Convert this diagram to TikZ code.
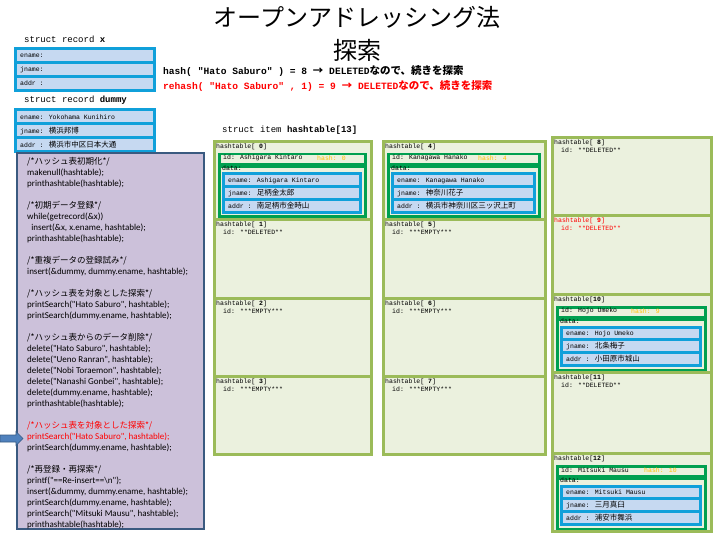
\documentclass[tikz,border=0pt]{standalone}
\usepackage{fontspec}
\setmainfont{Noto Sans CJK JP}
\newfontfamily\jp{Noto Sans CJK JP}
\newfontfamily\lmono{Liberation Mono}
\newfontfamily\codef{Carlito}
\usetikzlibrary{fit}
\definecolor{cellfill}{HTML}{EBF1DE}
\definecolor{cellborder}{HTML}{9BBB59}
\definecolor{dgreen}{HTML}{00A050}
\definecolor{rblue}{HTML}{10A0DA}
\definecolor{rfill}{HTML}{C6D9F1}
\definecolor{codefill}{HTML}{CCC1DA}
\definecolor{codeborder}{HTML}{3A5A80}
\definecolor{hashc}{HTML}{FFC000}
\definecolor{arrowc}{HTML}{4F81BD}
\definecolor{redc}{HTML}{FF0000}
\newcommand{\Jc}[1]{{\jp\fontsize{7.5}{8}\selectfont #1}}
\newcommand{\Hj}[1]{{\jp\bfseries\fontsize{10.5}{11}\selectfont #1}}
\newcommand{\Cj}[1]{{\jp\fontsize{8.5}{11}\selectfont #1}}
\tikzset{
  cellbox/.style={draw=cellborder, fill=cellfill, line width=3pt, anchor=north west, inner sep=0pt},
  grnbox/.style={draw=dgreen, line width=2.5pt, anchor=north west, inner sep=0pt},
  recrow/.style={draw=rblue, fill=rfill, line width=1.5pt, anchor=north west, inner sep=0pt},
  recframe/.style={draw=rblue, line width=3pt, inner sep=0pt},
  celltxt/.style={anchor=west, inner sep=0pt, font=\lmono\fontsize{6.5}{7}\selectfont},
  structtxt/.style={anchor=west, inner sep=0pt, font=\lmono\fontsize{9}{10}\selectfont},
  hashtxt/.style={anchor=west, inner sep=0pt, font=\lmono\bfseries\fontsize{9.6}{11}\selectfont},
}
% record box: name, x, y, width, row height, ename, jname, addr
\newcommand{\recbox}[8]{%
  \node[recrow, minimum width={#4pt}, minimum height={#5pt}] (#1-e) at (#2,#3) {};
  \node[recrow, minimum width={#4pt}, minimum height={#5pt}] (#1-j) at (#1-e.south west) {};
  \node[recrow, minimum width={#4pt}, minimum height={#5pt}] (#1-a) at (#1-j.south west) {};
  \node[recframe, fit=(#1-e)(#1-a)] (#1) {};
  \node[celltxt] (#1-et) at ([xshift=5pt]#1-e.west) {ename: #6};
  \node[celltxt] (#1-jt) at ([xshift=5pt]#1-j.west) {jname: #7};
  \node[celltxt] (#1-at) at ([xshift=5pt]#1-a.west) {addr : #8};
}
% empty cell: name, x0, x1, top, height, index, id text, colour
\newcommand{\emptycell}[8]{%
  \node[cellbox, minimum width={#3pt-#2pt}, minimum height={#5pt}] (#1) at (#2,#4) {};
  \node[celltxt, text=#8] (#1-h) at ({#2+3},{#4+7}) {hashtable[\textbf{#6}]};
  \node[celltxt, text=#8] (#1-id) at ({#2+10},{#4+14}) {id: #7};
}
% full cell: name, x0, x1, top, height, index, person, hash x, hash value
\newcommand{\fullcell}[9]{%
  \node[cellbox, minimum width={#3pt-#2pt}, minimum height={#5pt}] (#1) at (#2,#4) {};
  \node[celltxt] (#1-h) at ({#2+3},{#4+7}) {hashtable[\textbf{#6}]};
  \node[grnbox, fill=cellfill, minimum width={#3pt-#2pt-11pt}, minimum height=10pt] (#1-idrow) at ({#2+5},{#4+13}) {};
  \node[grnbox, minimum width={#3pt-#2pt-11pt}, minimum height=50pt] (#1-data) at (#1-idrow.south west) {};
  \node[celltxt] (#1-id) at ({#2+10},{#4+18}) {id: #7};
  \node[celltxt, text=hashc] (#1-hash) at (#8,{#4+18}) {hash: #9};
  \node[celltxt] (#1-dt) at ({#2+9},{#4+28}) {data:};
}
\begin{document}
\begin{tikzpicture}[x=1pt,y=-1pt]
\fill[white] (0,0) rectangle (720,540);
\useasboundingbox (0,0) rectangle (720,540);
% title and hash lines
\node[font=\jp\fontsize{24}{33}\selectfont, align=center, inner sep=0pt] (title) at (357,34) {オープンアドレッシング法\\探索};
\node[hashtxt] (h1) at (163,71) {hash( "Hato Saburo" ) = 8 \Hj{→} DELETED\Hj{なので、続きを探索}};
\node[hashtxt, text=redc] (h2) at (163,86) {rehash( "Hato Saburo" , 1) = 9 \Hj{→} DELETED\Hj{なので、続きを探索}};
% records
\node[structtxt] (sx) at (24,39) {struct record \textbf{x}};
\recbox{recx}{15}{49}{138}{12.3}{}{}{}
\node[structtxt] (sd) at (24,100) {struct record \textbf{dummy}};
\recbox{dummy}{15}{110}{138}{12.3}{Yokohama Kunihiro}{\Jc{横浜邦博}}{\Jc{横浜市中区日本大通}}
% code
\node[draw=codeborder, fill=codefill, line width=2pt, anchor=north west, minimum width=187pt, minimum height=376pt, inner sep=0pt] (code) at (16,152) {};
\node[anchor=north west, align=left, inner sep=0pt, font=\codef\fontsize{9}{11}\selectfont] (codetxt) at (27,157) {%
\Cj{/*ハッシュ表初期化*/}\\
makenull(hashtable);\\
printhashtable(hashtable);\\
~\\
\Cj{/*初期データ登録*/}\\
while(getrecord(\&x))\\
\ \ insert(\&x, x.ename, hashtable);\\
printhashtable(hashtable);\\
~\\
\Cj{/*重複データの登録試み*/}\\
insert(\&dummy, dummy.ename, hashtable);\\
~\\
\Cj{/*ハッシュ表を対象とした探索*/}\\
printSearch("Hato Saburo", hashtable);\\
printSearch(dummy.ename, hashtable);\\
~\\
\Cj{/*ハッシュ表からのデータ削除*/}\\
delete("Hato Saburo", hashtable);\\
delete("Ueno Ranran", hashtable);\\
delete("Nobi Toraemon", hashtable);\\
delete("Nanashi Gonbei", hashtable);\\
delete(dummy.ename, hashtable);\\
printhashtable(hashtable);\\
~\\
{\color{redc}\Cj{/*ハッシュ表を対象とした探索*/}}\\
{\color{redc}printSearch("Hato Saburo", hashtable);}\\
printSearch(dummy.ename, hashtable);\\
~\\
\Cj{/*再登録・再探索*/}\\
printf("==Re-insert==\textbackslash n");\\
insert(\&dummy, dummy.ename, hashtable);\\
printSearch(dummy.ename, hashtable);\\
printSearch("Mitsuki Mausu", hashtable);\\
printhashtable(hashtable);};
\filldraw[fill=arrowc, draw=arrowc!70!black, line width=0.6pt] (0,435) -- (16,435) -- (16,431.5) -- (23,438.5) -- (16,445.5) -- (16,442) -- (0,442) -- cycle;
% hash table
\node[structtxt] (si) at (222,130) {struct item \textbf{hashtable[13]}};
\fullcell{c0}{213}{370}{140}{78}{ 0}{Ashigara Kintaro}{317}{0}
\recbox{c0rec}{223}{174}{136}{11.3}{Ashigara Kintaro}{\Jc{足柄金太郎}}{\Jc{南足柄市金時山}}
\emptycell{c1}{213}{370}{218}{79}{ 1}{**DELETED**}{black}
\emptycell{c2}{213}{370}{297}{78}{ 2}{***EMPTY***}{black}
\emptycell{c3}{213}{370}{375}{78}{ 3}{***EMPTY***}{black}
\fullcell{c4}{382}{544}{140}{78}{ 4}{Kanagawa Hanako}{478}{4}
\recbox{c4rec}{392}{174}{141}{11.3}{Kanagawa Hanako}{\Jc{神奈川花子}}{\Jc{横浜市神奈川区三ッ沢上町}}
\emptycell{c5}{382}{544}{218}{79}{ 5}{***EMPTY***}{black}
\emptycell{c6}{382}{544}{297}{78}{ 6}{***EMPTY***}{black}
\emptycell{c7}{382}{544}{375}{78}{ 7}{***EMPTY***}{black}
\emptycell{c8}{551}{710}{136}{78}{ 8}{**DELETED**}{black}
\emptycell{c9}{551}{710}{214}{79}{ 9}{**DELETED**}{redc}
\fullcell{c10}{551}{710}{293}{78}{10}{Hojo Umeko}{631}{9}
\recbox{c10rec}{561}{327}{138}{11.3}{Hojo Umeko}{\Jc{北条梅子}}{\Jc{小田原市城山}}
\emptycell{c11}{551}{710}{371}{81}{11}{**DELETED**}{black}
\fullcell{c12}{551}{710}{452}{78}{12}{Mitsuki Mausu}{644}{10}
\recbox{c12rec}{561}{486}{138}{11.3}{Mitsuki Mausu}{\Jc{三月真臼}}{\Jc{浦安市舞浜}}
\end{tikzpicture}
\end{document}
